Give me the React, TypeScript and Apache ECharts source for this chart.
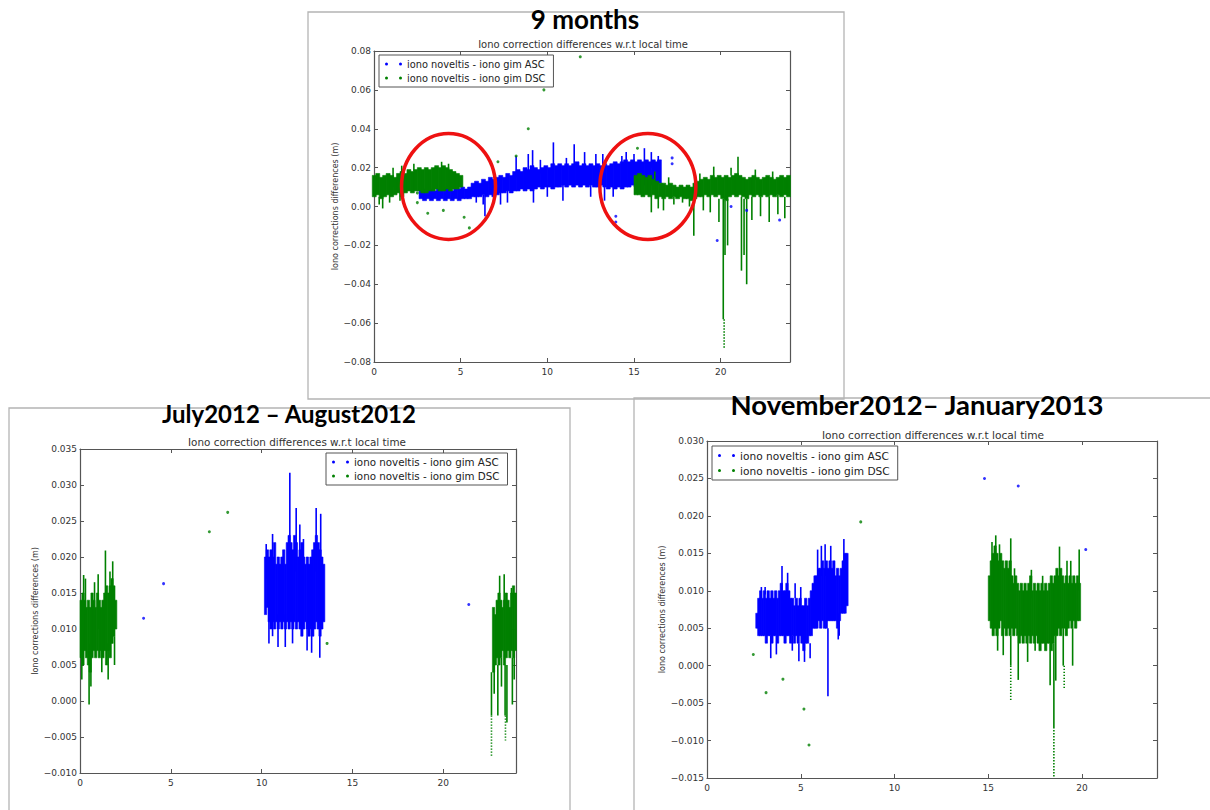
import React, { useEffect, useRef } from "react";
import * as echarts from "echarts";

const ASC = "iono noveltis - iono gim ASC";
const DSC = "iono noveltis - iono gim DSC";
const BLUE = "#0000ff";
const GREEN = "#008000";
const SUBTITLE = "Iono correction differences w.r.t local time";
const YNAME = "Iono corrections differences (m)";
const BIG_TITLES = ["9 months", "July2012 \u2013 August2012", "November2012\u2013 January2013"];

// ---------- 9 months ----------  [hour, low, high]
const nineAscBand = [
  [2.7, 0.004, 0.009], [2.9, 0.003, 0.009], [3.1, 0.004, 0.008], [3.3, 0.003, 0.009], [3.5, 0.004, 0.008],
  [3.7, 0.003, 0.009], [3.9, 0.004, 0.008], [4.1, 0.003, 0.009], [4.3, 0.004, 0.009], [4.5, 0.003, 0.008],
  [4.7, 0.004, 0.009], [4.9, 0.003, 0.009], [5.1, 0.004, 0.010], [5.3, 0.004, 0.009], [5.5, 0.004, 0.010],
  [5.7, 0.005, 0.012], [5.9, 0.005, 0.013], [6.1, 0.005, 0.012], [6.3, 0.006, 0.014], [6.5, 0.005, 0.013],
  [6.7, 0.006, 0.015], [6.9, 0.005, 0.014], [7.1, 0.006, 0.015], [7.3, 0.007, 0.016], [7.5, 0.007, 0.015],
  [7.7, 0.008, 0.017], [7.9, 0.007, 0.016], [8.1, 0.008, 0.018], [8.3, 0.008, 0.019], [8.5, 0.009, 0.018],
  [8.7, 0.008, 0.020], [8.9, 0.009, 0.019], [9.1, 0.008, 0.021], [9.3, 0.009, 0.020], [9.5, 0.010, 0.019],
  [9.7, 0.009, 0.020], [9.9, 0.010, 0.021], [10.1, 0.010, 0.020], [10.3, 0.009, 0.022], [10.5, 0.010, 0.021],
  [10.7, 0.010, 0.022], [10.9, 0.011, 0.021], [11.1, 0.010, 0.022], [11.3, 0.011, 0.021], [11.5, 0.010, 0.022],
  [11.7, 0.011, 0.023], [11.9, 0.010, 0.021], [12.1, 0.011, 0.022], [12.3, 0.010, 0.021], [12.5, 0.011, 0.022],
  [12.7, 0.010, 0.021], [12.9, 0.010, 0.022], [13.1, 0.011, 0.021], [13.3, 0.010, 0.022], [13.5, 0.009, 0.021],
  [13.7, 0.010, 0.022], [13.9, 0.009, 0.023], [14.1, 0.010, 0.022], [14.3, 0.009, 0.023], [14.5, 0.010, 0.024],
  [14.7, 0.010, 0.023], [14.9, 0.011, 0.024], [15.1, 0.010, 0.023], [15.3, 0.011, 0.024], [15.5, 0.011, 0.023],
  [15.7, 0.012, 0.024], [15.9, 0.012, 0.023], [16.1, 0.011, 0.024], [16.3, 0.012, 0.023], [16.45, 0.012, 0.024],
];
const nineAscSpikes = [
  [6.4, -0.005, 0.006], [6.3, 0.001, 0.006], [5.9, 0.002, 0.006], [7.3, 0.001, 0.008], [8.2, 0.015, 0.026],
  [8.9, 0.016, 0.027], [9.2, 0.002, 0.010], [9.15, 0.018, 0.029], [9.6, 0.017, 0.024], [10.35, 0.019, 0.033],
  [10.9, 0.003, 0.011], [11.1, 0.018, 0.025], [11.55, 0.019, 0.032], [12.15, 0.020, 0.028], [12.5, 0.005, 0.011],
  [12.8, 0.019, 0.027], [13.2, 0.020, 0.027], [13.8, 0.005, 0.010], [14.3, 0.020, 0.026], [14.55, 0.021, 0.028],
  [15.0, 0.021, 0.027], [15.6, 0.022, 0.030], [16.0, 0.020, 0.028], [16.4, 0.018, 0.026], [7.7, 0.002, 0.008],
  [10.0, 0.005, 0.011], [13.3, 0.003, 0.010],
];
const nineAscPoints = [
  [13.95, -0.005], [13.95, -0.008], [17.2, 0.025], [17.2, 0.022], [19.8, -0.0175], [20.6, 0.0], [21.5, -0.002], [23.4, -0.007],
];
const nineDscBand = [
  [0.0, 0.005, 0.016], [0.2, 0.006, 0.017], [0.4, 0.004, 0.015], [0.6, 0.005, 0.016], [0.8, 0.006, 0.017],
  [1.0, 0.005, 0.016], [1.2, 0.006, 0.015], [1.4, 0.007, 0.017], [1.6, 0.005, 0.018], [1.8, 0.007, 0.017],
  [2.0, 0.008, 0.019], [2.2, 0.007, 0.018], [2.4, 0.008, 0.019], [2.6, 0.008, 0.020], [2.8, 0.007, 0.019],
  [3.0, 0.007, 0.020], [3.2, 0.008, 0.019], [3.4, 0.008, 0.020], [3.6, 0.009, 0.021], [3.8, 0.008, 0.020],
  [4.0, 0.008, 0.021], [4.2, 0.009, 0.020], [4.4, 0.008, 0.019], [4.6, 0.009, 0.018], [4.8, 0.009, 0.017],
  [5.0, 0.010, 0.016],
  [15.1, 0.006, 0.016], [15.3, 0.006, 0.017], [15.5, 0.005, 0.016], [15.7, 0.006, 0.015], [15.9, 0.005, 0.016],
  [16.1, 0.006, 0.014], [16.3, 0.004, 0.013], [16.5, 0.005, 0.012], [16.7, 0.004, 0.012], [16.9, 0.005, 0.011],
  [17.1, 0.004, 0.012], [17.3, 0.005, 0.011], [17.5, 0.004, 0.010], [17.7, 0.005, 0.011], [17.9, 0.004, 0.010],
  [18.1, 0.004, 0.011], [18.3, 0.003, 0.010], [18.5, 0.004, 0.012], [18.7, 0.005, 0.013], [18.9, 0.005, 0.014],
  [19.1, 0.006, 0.015], [19.3, 0.005, 0.014], [19.5, 0.006, 0.016], [19.7, 0.005, 0.015], [19.9, 0.006, 0.016],
  [20.1, 0.004, 0.015], [20.3, 0.003, 0.016], [20.5, 0.005, 0.015], [20.7, 0.006, 0.016], [20.9, 0.005, 0.017],
  [21.1, 0.006, 0.016], [21.3, 0.005, 0.015], [21.5, 0.004, 0.014], [21.7, 0.006, 0.015], [21.9, 0.005, 0.016],
  [22.1, 0.006, 0.015], [22.3, 0.005, 0.014], [22.5, 0.006, 0.015], [22.7, 0.005, 0.016], [22.9, 0.006, 0.015],
  [23.1, 0.005, 0.014], [23.3, 0.006, 0.015], [23.5, 0.005, 0.016], [23.7, 0.006, 0.015], [23.9, 0.005, 0.016],
];
const nineDscSpikes = [
  [0.5, -0.001, 0.006], [0.3, 0.001, 0.005], [0.9, 0.002, 0.006], [1.1, 0.010, 0.020], [1.5, 0.003, 0.008],
  [1.6, 0.015, 0.021], [3.9, 0.019, 0.023], [4.3, 0.019, 0.022], [2.3, 0.018, 0.022],
  [16.0, -0.003, 0.006], [16.4, -0.001, 0.006], [16.7, -0.002, 0.005], [17.3, 0.001, 0.005], [17.8, 0.002, 0.005],
  [18.45, -0.015, 0.004], [18.2, 0.0, 0.004], [19.0, -0.002, 0.006], [19.6, 0.015, 0.0205], [19.4, -0.003, 0.006],
  [20.15, -0.058, 0.004], [20.25, -0.025, 0.003], [20.4, -0.02, 0.004], [21.0, 0.015, 0.0256], [21.2, -0.033, 0.005],
  [21.5, -0.040, 0.004], [21.35, -0.025, 0.004], [21.8, -0.007, 0.005], [22.3, -0.005, 0.005], [22.8, -0.008, 0.005],
  [23.3, -0.004, 0.006], [23.7, -0.006, 0.005], [22.0, 0.014, 0.019], [23.0, 0.014, 0.018], [20.6, 0.016, 0.020],
  [17.0, 0.011, 0.015], [16.2, 0.014, 0.018], [18.8, 0.012, 0.017], [19.9, -0.008, 0.004],
];
const nineDscTails = [[20.2, -0.073, -0.058]];
const nineDscPoints = [
  [2.5, 0.002], [2.5, 0.007], [3.1, -0.0035], [4.0, -0.002], [5.2, -0.0055], [5.5, -0.011], [7.15, 0.023],
  [8.2, 0.026], [8.9, 0.040], [9.8, 0.060], [11.9, 0.077], [15.2, 0.030],
];

// ---------- July 2012 - August 2012 ----------
const julyAscBand = [
  [10.2, 0.012, 0.020], [10.3, 0.013, 0.021], [10.4, 0.011, 0.020], [10.5, 0.010, 0.021], [10.6, 0.011, 0.020],
  [10.7, 0.010, 0.022], [10.8, 0.011, 0.019], [10.9, 0.010, 0.020], [11.0, 0.011, 0.019], [11.1, 0.010, 0.020],
  [11.2, 0.011, 0.021], [11.3, 0.010, 0.019], [11.4, 0.011, 0.022], [11.5, 0.010, 0.023], [11.6, 0.011, 0.022],
  [11.7, 0.010, 0.021], [11.8, 0.011, 0.023], [11.9, 0.010, 0.022], [12.0, 0.011, 0.020], [12.1, 0.010, 0.021],
  [12.2, 0.009, 0.022], [12.3, 0.010, 0.020], [12.4, 0.011, 0.019], [12.5, 0.010, 0.020], [12.6, 0.009, 0.019],
  [12.7, 0.010, 0.020], [12.8, 0.009, 0.021], [12.9, 0.010, 0.022], [13.0, 0.011, 0.023], [13.1, 0.010, 0.022],
  [13.2, 0.009, 0.021], [13.3, 0.010, 0.020], [13.4, 0.011, 0.019],
];
const julyAscSpikes = [
  [10.25, 0.017, 0.0218], [10.6, 0.009, 0.0232], [10.9, 0.0075, 0.012], [11.3, 0.0075, 0.012], [11.55, 0.018, 0.0317],
  [11.9, 0.018, 0.0268], [11.7, 0.008, 0.012], [12.1, 0.017, 0.0245], [12.5, 0.007, 0.011], [12.75, 0.0067, 0.011],
  [13.0, 0.018, 0.0268], [13.2, 0.006, 0.011], [13.25, 0.019, 0.026], [12.3, 0.016, 0.0225], [10.4, 0.008, 0.012],
];
const julyAscPoints = [[3.5, 0.0115], [4.6, 0.0163], [21.4, 0.0134]];
const julyDscBand = [
  [0.05, 0.006, 0.014], [0.15, 0.005, 0.015], [0.25, 0.007, 0.014], [0.35, 0.006, 0.013], [0.45, 0.005, 0.014],
  [0.55, 0.004, 0.013], [0.65, 0.006, 0.015], [0.75, 0.007, 0.014], [0.85, 0.006, 0.013], [0.95, 0.007, 0.015],
  [1.05, 0.006, 0.014], [1.15, 0.007, 0.013], [1.25, 0.006, 0.014], [1.35, 0.007, 0.015], [1.45, 0.005, 0.016],
  [1.55, 0.007, 0.015], [1.65, 0.006, 0.016], [1.75, 0.008, 0.017], [1.85, 0.009, 0.016], [1.95, 0.010, 0.014],
  [22.75, 0.004, 0.013], [22.85, 0.005, 0.012], [22.95, 0.006, 0.014], [23.05, 0.005, 0.015], [23.15, 0.006, 0.014],
  [23.25, 0.007, 0.013], [23.35, 0.005, 0.014], [23.45, 0.006, 0.015], [23.55, 0.007, 0.014], [23.65, 0.006, 0.013],
  [23.75, 0.007, 0.015], [23.85, 0.006, 0.016], [23.95, 0.007, 0.015],
];
const julyDscSpikes = [
  [0.1, 0.003, 0.010], [0.2, 0.010, 0.0175], [0.5, -0.0005, 0.008], [0.6, 0.002, 0.007], [0.8, 0.012, 0.0165],
  [1.0, 0.010, 0.0176], [1.2, 0.004, 0.009], [1.4, 0.012, 0.0209], [1.55, 0.003, 0.008], [1.8, 0.012, 0.0194],
  [1.9, 0.005, 0.009], [0.3, 0.012, 0.017], [1.65, 0.011, 0.018],
  [22.8, 0.001, 0.005], [23.1, 0.013, 0.0174], [23.2, 0.002, 0.006], [23.4, -0.002, 0.005], [23.35, 0.013, 0.0176],
  [23.5, -0.003, 0.005], [23.8, -0.0005, 0.006], [23.75, 0.013, 0.0157], [23.0, -0.002, 0.005], [23.9, 0.003, 0.007],
  [22.65, -0.002, 0.004],
];
const julyDscTails = [[22.65, -0.0076, -0.002], [23.42, -0.0055, -0.002]];
const julyDscPoints = [[7.12, 0.0235], [8.13, 0.0262], [13.6, 0.008]];

// ---------- November 2012 - January 2013 ----------
const novAscBand = [
  [2.65, 0.005, 0.007], [2.75, 0.004, 0.009], [2.85, 0.004, 0.010], [2.95, 0.004, 0.009], [3.05, 0.004, 0.010],
  [3.15, 0.003, 0.009], [3.25, 0.004, 0.010], [3.35, 0.004, 0.009], [3.45, 0.003, 0.010], [3.55, 0.004, 0.009],
  [3.65, 0.004, 0.010], [3.75, 0.003, 0.009], [3.85, 0.004, 0.010], [3.95, 0.004, 0.011], [4.05, 0.004, 0.010],
  [4.15, 0.003, 0.010], [4.25, 0.004, 0.011], [4.35, 0.004, 0.010], [4.45, 0.003, 0.009], [4.55, 0.004, 0.009],
  [4.65, 0.003, 0.008], [4.75, 0.004, 0.009], [4.85, 0.003, 0.008], [4.95, 0.004, 0.009], [5.05, 0.003, 0.008],
  [5.15, 0.002, 0.008], [5.25, 0.003, 0.009], [5.35, 0.003, 0.008], [5.45, 0.004, 0.009], [5.55, 0.004, 0.010],
  [5.65, 0.005, 0.011], [5.75, 0.005, 0.012], [5.85, 0.005, 0.012], [5.95, 0.006, 0.013], [6.05, 0.005, 0.013],
  [6.15, 0.006, 0.014], [6.25, 0.005, 0.013], [6.35, 0.005, 0.014], [6.45, 0.006, 0.013], [6.55, 0.006, 0.014],
  [6.65, 0.006, 0.013], [6.75, 0.006, 0.014], [6.85, 0.006, 0.012], [6.95, 0.005, 0.013], [7.05, 0.006, 0.012],
  [7.15, 0.007, 0.013], [7.25, 0.007, 0.014], [7.35, 0.007, 0.015], [7.45, 0.008, 0.015],
];
const novAscSpikes = [
  [2.9, 0.009, 0.0105], [3.4, 0.001, 0.004], [3.7, 0.0015, 0.004], [4.0, 0.010, 0.0133], [4.3, 0.010, 0.0124],
  [4.55, 0.002, 0.004], [4.9, 0.0006, 0.003], [5.0, 0.008, 0.0105], [5.2, 0.0005, 0.003], [5.5, 0.001, 0.003],
  [5.9, 0.011, 0.0155], [6.1, 0.012, 0.016], [6.3, 0.012, 0.0162], [6.45, -0.0041, 0.005], [6.6, 0.012, 0.016],
  [7.05, 0.004, 0.007], [7.3, 0.013, 0.0169], [7.0, 0.0035, 0.006], [3.1, 0.0095, 0.0105], [4.7, 0.009, 0.011],
];
const novAscPoints = [[14.8, 0.025], [16.6, 0.024], [20.2, 0.0155]];
const novDscBand = [
  [15.05, 0.006, 0.012], [15.15, 0.005, 0.014], [15.25, 0.004, 0.015], [15.35, 0.005, 0.016], [15.45, 0.004, 0.015],
  [15.55, 0.005, 0.014], [15.65, 0.006, 0.015], [15.75, 0.004, 0.014], [15.85, 0.005, 0.013], [15.95, 0.004, 0.014],
  [16.05, 0.005, 0.013], [16.15, 0.004, 0.014], [16.25, 0.005, 0.012], [16.35, 0.004, 0.011], [16.45, 0.005, 0.012],
  [16.55, 0.004, 0.011], [16.65, 0.003, 0.010], [16.75, 0.004, 0.011], [16.85, 0.003, 0.010], [16.95, 0.004, 0.011],
  [17.05, 0.003, 0.010], [17.15, 0.004, 0.011], [17.25, 0.003, 0.012], [17.35, 0.004, 0.010], [17.45, 0.003, 0.011],
  [17.55, 0.004, 0.010], [17.65, 0.003, 0.011], [17.75, 0.002, 0.010], [17.85, 0.003, 0.011], [17.95, 0.003, 0.010],
  [18.05, 0.002, 0.011], [18.15, 0.003, 0.010], [18.25, 0.003, 0.011], [18.35, 0.002, 0.012], [18.45, 0.003, 0.011],
  [18.55, 0.004, 0.012], [18.65, 0.004, 0.013], [18.75, 0.005, 0.012], [18.85, 0.004, 0.013], [18.95, 0.005, 0.012],
  [19.05, 0.005, 0.011], [19.15, 0.004, 0.012], [19.25, 0.005, 0.011], [19.35, 0.006, 0.012], [19.45, 0.005, 0.011],
  [19.55, 0.006, 0.012], [19.65, 0.005, 0.011], [19.75, 0.006, 0.012], [19.85, 0.006, 0.011],
];
const novDscSpikes = [
  [15.2, 0.012, 0.0165], [15.4, 0.012, 0.0174], [15.6, 0.011, 0.0162], [15.8, 0.0014, 0.005], [16.2, 0.011, 0.0170],
  [16.2, 0.0, 0.004], [16.6, -0.0019, 0.004], [16.4, 0.009, 0.013], [17.1, 0.0005, 0.004], [17.3, 0.009, 0.0128],
  [17.5, 0.002, 0.004], [17.9, 0.009, 0.012], [18.3, -0.0026, 0.003], [18.5, -0.0082, 0.003], [18.8, 0.010, 0.0159],
  [19.0, 0.0, 0.005], [19.2, 0.010, 0.014], [19.5, 0.0, 0.005], [19.85, 0.010, 0.0155], [18.6, -0.002, 0.004],
  [15.5, 0.002, 0.005], [19.4, 0.009, 0.014],
];
const novDscTails = [[18.5, -0.015, -0.0082], [16.2, -0.0046, 0.0], [19.05, -0.0032, 0.0]];
const novDscPoints = [[2.47, 0.0015], [3.15, -0.0036], [4.05, -0.0018], [5.17, -0.0058], [5.44, -0.0106], [8.2, 0.0192]];

// ---------- layout ----------
const GRIDS = [
  { left: 374, top: 51, width: 416, height: 311, yMin: -0.08, yMax: 0.08, yStep: 0.02, dec: 2, nameGap: 27 },
  { left: 80, top: 449, width: 436, height: 324, yMin: -0.01, yMax: 0.035, yStep: 0.005, dec: 3, nameGap: 34 },
  { left: 707, top: 441, width: 450, height: 337, yMin: -0.015, yMax: 0.03, yStep: 0.005, dec: 3, nameGap: 34 },
];
const DOTS = "path://M0,1.5a1.5,1.5 0 1,0 3,0a1.5,1.5 0 1,0 -3,0zM14,1.5a1.5,1.5 0 1,0 3,0a1.5,1.5 0 1,0 -3,0z";
const FONT = "DejaVu Sans";
const AXIS_COLOR = "#555";

function fmt(v: number, step: number, dec: number) {
  const r = Math.round(v / step) * step;
  if (Math.abs(r) < 1e-12) return (0).toFixed(dec);
  return (r < 0 ? "\u2212" : "") + Math.abs(r).toFixed(dec);
}

function bandSeries(data: number[][], step: number, gi: number, name: string, color: string) {
  return {
    type: "custom", name, xAxisIndex: gi, yAxisIndex: gi, itemStyle: { color }, silent: true,
    encode: { x: 0, y: [1, 2] }, data,
    renderItem: (_p: any, api: any) => {
      const x = api.value(0), lo = api.value(1), hi = api.value(2);
      const a = api.coord([x - step / 2, hi]);
      const b = api.coord([x + step / 2, lo]);
      return {
        type: "rect",
        shape: { x: a[0], y: a[1], width: b[0] - a[0] + 0.5, height: Math.max(1.5, b[1] - a[1]) },
        style: { fill: color, stroke: color, lineWidth: 0.6 },
      };
    },
  };
}
function spikeSeries(data: number[][], gi: number, name: string, color: string) {
  return {
    type: "custom", name, xAxisIndex: gi, yAxisIndex: gi, itemStyle: { color }, silent: true,
    encode: { x: 0, y: [1, 2] }, data,
    renderItem: (_p: any, api: any) => {
      const a = api.coord([api.value(0), api.value(2)]);
      const b = api.coord([api.value(0), api.value(1)]);
      return { type: "rect", shape: { x: a[0] - 0.8, y: a[1], width: 1.6, height: b[1] - a[1] }, style: { fill: color } };
    },
  };
}
function tailSeries(data: number[][], gi: number, name: string, color: string) {
  return {
    type: "custom", name, xAxisIndex: gi, yAxisIndex: gi, itemStyle: { color }, silent: true,
    encode: { x: 0, y: [1, 2] }, data,
    renderItem: (_p: any, api: any) => {
      const a = api.coord([api.value(0), api.value(2)]);
      const b = api.coord([api.value(0), api.value(1)]);
      return { type: "line", shape: { x1: a[0], y1: a[1], x2: b[0], y2: b[1] }, style: { stroke: color, lineWidth: 1.6, lineDash: [1.4, 1.6] } };
    },
  };
}
function pointSeries(data: number[][], gi: number, name: string, color: string) {
  return {
    type: "scatter", name, xAxisIndex: gi, yAxisIndex: gi, data, symbol: "circle", symbolSize: 3,
    itemStyle: { color, opacity: 0.8 }, silent: true,
  };
}

const SETS = [
  { asc: [nineAscBand, nineAscSpikes, nineAscPoints], dsc: [nineDscBand, nineDscSpikes, nineDscTails, nineDscPoints], step: 0.2 },
  { asc: [julyAscBand, julyAscSpikes, julyAscPoints], dsc: [julyDscBand, julyDscSpikes, julyDscTails, julyDscPoints], step: 0.1 },
  { asc: [novAscBand, novAscSpikes, novAscPoints], dsc: [novDscBand, novDscSpikes, novDscTails, novDscPoints], step: 0.1 },
];

const LEGENDS = [
  { left: 379, top: 55, fontSize: 9.8 },
  { left: 326, top: 453, fontSize: 10.3 },
  { left: 712, top: 446, fontSize: 10.6 },
];
const SUBTITLE_POS = [
  { x: 583, y: 39, size: 10 }, { x: 297, y: 437, size: 10.4 }, { x: 933, y: 429, size: 10.6 },
];
const BIG_POS = [
  { x: 585, y: 6, size: 26 }, { x: 289, y: 401, size: 24 }, { x: 917, y: 390, size: 27.5 },
];

export default function App() {
  const ref = useRef<HTMLDivElement>(null);
  useEffect(() => {
    if (!ref.current) return;
    const chart = echarts.init(ref.current, null, { renderer: "svg" });
    const xAxes: any[] = [];
    const yAxes: any[] = [];
    GRIDS.forEach((g, i) => {
      xAxes[i] = {
        type: "value", gridIndex: i, min: 0, max: 24, interval: 5, position: "bottom",
        axisLine: { onZero: false, lineStyle: { color: AXIS_COLOR, width: 1.2 } },
        axisTick: { inside: true, length: 4, lineStyle: { color: AXIS_COLOR } },
        axisLabel: { fontFamily: FONT, fontSize: 9, color: "#333", margin: 5, showMaxLabel: false },
        splitLine: { show: false },
      };
      xAxes[i + 3] = {
        type: "value", gridIndex: i, min: 0, max: 24, interval: 5, position: "top",
        axisLine: { onZero: false, lineStyle: { color: AXIS_COLOR, width: 1.2 } },
        axisTick: { inside: true, length: 4, lineStyle: { color: AXIS_COLOR } },
        axisLabel: { show: false }, splitLine: { show: false },
      };
      yAxes[i] = {
        type: "value", gridIndex: i, min: g.yMin, max: g.yMax, interval: g.yStep, position: "left",
        name: YNAME, nameLocation: "middle", nameGap: g.nameGap, nameRotate: 90,
        nameTextStyle: { fontFamily: FONT, fontSize: 8, color: "#333" },
        axisLine: { onZero: false, lineStyle: { color: AXIS_COLOR, width: 1.2 } },
        axisTick: { inside: true, length: 4, lineStyle: { color: AXIS_COLOR } },
        axisLabel: { fontFamily: FONT, fontSize: 9, color: "#333", margin: 3, formatter: (v: number) => fmt(v, g.yStep, g.dec) },
        splitLine: { show: false },
      };
      yAxes[i + 3] = {
        type: "value", gridIndex: i, min: g.yMin, max: g.yMax, interval: g.yStep, position: "right",
        axisLine: { onZero: false, lineStyle: { color: AXIS_COLOR, width: 1.2 } },
        axisTick: { inside: true, length: 4, lineStyle: { color: AXIS_COLOR } },
        axisLabel: { show: false }, splitLine: { show: false },
      };
    });

    const series: any[] = [];
    SETS.forEach((s, i) => {
      series.push(bandSeries(s.asc[0], s.step, i, ASC, BLUE));
      series.push(spikeSeries(s.asc[1], i, ASC, BLUE));
      series.push(pointSeries(s.asc[2], i, ASC, BLUE));
      series.push(bandSeries(s.dsc[0], s.step, i, DSC, GREEN));
      series.push(spikeSeries(s.dsc[1], i, DSC, GREEN));
      series.push(tailSeries(s.dsc[2], i, DSC, GREEN));
      series.push(pointSeries(s.dsc[3], i, DSC, GREEN));
    });

    const titles: any[] = [];
    BIG_TITLES.forEach((t, i) => {
      titles.push({
        text: t, left: BIG_POS[i].x, top: BIG_POS[i].y, textAlign: "center", padding: 0,
        textStyle: { fontFamily: "Lato", fontWeight: "bold", fontSize: BIG_POS[i].size, color: "#000" },
      });
      titles.push({
        text: SUBTITLE, left: SUBTITLE_POS[i].x, top: SUBTITLE_POS[i].y, textAlign: "center", padding: 0,
        textStyle: { fontFamily: FONT, fontWeight: "normal", fontSize: SUBTITLE_POS[i].size, color: "#333" },
      });
    });

    const legends = LEGENDS.map((l) => ({
      left: l.left, top: l.top, orient: "vertical", selectedMode: false,
      data: [{ name: ASC, icon: DOTS }, { name: DSC, icon: DOTS }],
      itemWidth: 17, itemHeight: 3, itemGap: 4, padding: [4, 8, 4, 6],
      borderColor: "#555", borderWidth: 1, backgroundColor: "#fff",
      textStyle: { fontFamily: FONT, fontSize: l.fontSize, color: "#222" },
    }));

    chart.setOption({
      animation: false,
      backgroundColor: "#fff",
      title: titles,
      legend: legends,
      grid: GRIDS.map((g) => ({ left: g.left, top: g.top, width: g.width, height: g.height, containLabel: false })),
      xAxis: xAxes,
      yAxis: yAxes,
      series,
      graphic: [
        { id: "frameBR", type: "rect", z: -10, shape: { x: 634, y: 398, width: 600, height: 430 }, style: { fill: "none", stroke: "#b4b4b4", lineWidth: 1.3 }, silent: true },
        { id: "frameBL", type: "rect", z: -10, shape: { x: 9, y: 408, width: 561, height: 420 }, style: { fill: "none", stroke: "#b4b4b4", lineWidth: 1.3 }, silent: true },
        { id: "frameT", type: "rect", z: -10, shape: { x: 308, y: 12, width: 536, height: 387 }, style: { fill: "none", stroke: "#b4b4b4", lineWidth: 1.3 }, silent: true },
      ],
    });

    const c1 = chart.convertToPixel({ xAxisIndex: 0, yAxisIndex: 0 } as any, [4.3, 0.0103]) as number[];
    const c2 = chart.convertToPixel({ xAxisIndex: 0, yAxisIndex: 0 } as any, [15.8, 0.0103]) as number[];
    chart.setOption({
      graphic: [
        { id: "circ1", type: "ellipse", z: 100, shape: { cx: c1[0], cy: c1[1], rx: 47, ry: 53 }, style: { fill: "none", stroke: "#ee1111", lineWidth: 3.5 }, silent: true },
        { id: "circ2", type: "ellipse", z: 100, shape: { cx: c2[0], cy: c2[1], rx: 48, ry: 53 }, style: { fill: "none", stroke: "#ee1111", lineWidth: 3.5 }, silent: true },
      ],
    });
    return () => chart.dispose();
  }, []);
  return <div ref={ref} style={{ position: "absolute", left: 0, top: 0, width: 1210, height: 810, background: "#fff" }} />;
}
